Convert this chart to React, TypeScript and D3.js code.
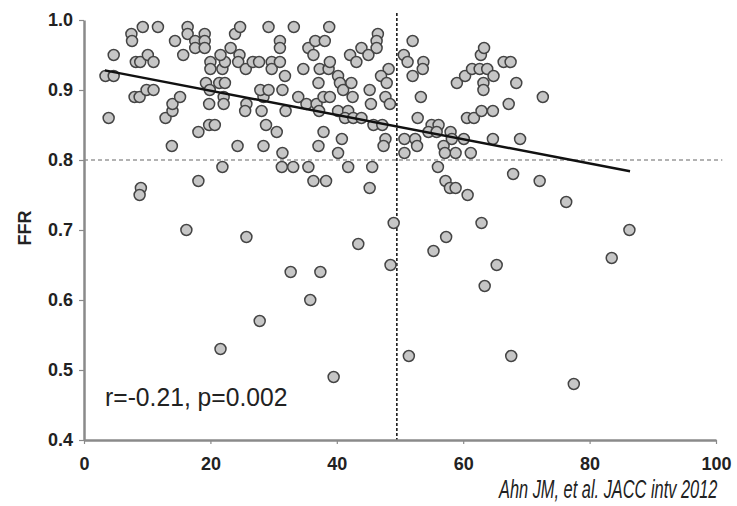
import React, { useEffect, useRef } from 'react';
import * as d3 from 'd3';

// x values (0-100) and FFR of each dot
const xValues = [
  3.4, 4.7, 4.7, 3.9, 7.5, 7.6, 9.3, 11.7, 8.2, 8.9, 10.1, 11.0, 8.0, 8.8, 9.9, 11.0, 9.0, 8.8,
  12.9, 14.0, 14.0, 15.2, 13.9, 14.4, 15.7, 16.4, 16.4, 17.6, 17.6, 19.1, 19.1, 19.1, 16.2, 18.1,
  18.1, 19.8, 20.7, 19.3, 19.8, 19.9, 20.0, 20.0, 21.4, 22.3, 22.1, 22.1, 21.9, 22.3, 21.6, 23.2,
  23.9, 24.7, 21.9, 24.6, 24.4, 25.6, 26.7, 27.7, 25.7, 25.7, 25.5, 28.1, 28.4, 27.9, 29.2, 28.8,
  30.5, 24.3, 28.4, 29.2, 29.7, 29.7, 31.0, 31.0, 31.0, 31.8, 31.4, 31.9, 31.4, 31.3, 33.1, 33.2,
  33.9, 34.7, 35.2, 35.5, 35.5, 36.3, 36.8, 37.2, 37.1, 36.3, 38.3, 37.1, 37.9, 36.6, 38.1, 38.8,
  37.3, 38.7, 38.9, 37.9, 38.9, 40.2, 40.5, 41.0, 40.2, 41.8, 41.3, 40.8, 40.2, 41.8, 42.3, 42.5,
  42.1, 43.1, 43.9, 42.6, 43.9, 43.4,
  46.5, 46.3, 46.3, 45.0, 48.2, 47.0, 47.9, 45.2, 45.4, 47.7, 48.4, 45.8, 47.2, 47.7, 47.4, 45.6,
  45.2, 49.0, 52.0, 50.6, 51.2, 52.0, 53.7, 53.6, 53.3, 52.8, 50.7, 52.4, 52.7, 50.7, 55.0, 56.1,
  54.5, 55.8, 58.0, 58.2, 56.9, 58.8, 57.1, 60.1, 61.2, 56.0, 57.2, 57.9, 58.8, 60.7, 55.3, 57.3,
  59.0, 60.3, 61.4, 62.6, 63.8, 64.8, 62.8, 63.3, 63.2, 63.2, 66.4, 67.5, 68.4, 60.6, 61.7, 62.9,
  64.7, 67.2, 64.7, 69.0, 72.6, 67.9, 72.1, 76.3, 62.9, 86.3, 83.5, 48.5, 65.3, 63.4, 51.4, 67.6,
  77.5, 32.7, 37.4, 35.8, 27.8, 21.6, 39.5
];
const ffrValues = [
  0.92, 0.92, 0.95, 0.86, 0.98, 0.97, 0.99, 0.99, 0.94, 0.94, 0.95, 0.94, 0.89, 0.89, 0.90, 0.90, 0.76, 0.75,
  0.86, 0.87, 0.88, 0.89, 0.82, 0.97, 0.95, 0.99, 0.98, 0.97, 0.96, 0.98, 0.97, 0.96, 0.70, 0.77,
  0.84, 0.85, 0.85, 0.91, 0.88, 0.90, 0.94, 0.93, 0.91, 0.91, 0.89, 0.88, 0.93, 0.94, 0.95, 0.96,
  0.98, 0.99, 0.79, 0.95, 0.94, 0.93, 0.94, 0.94, 0.69, 0.88, 0.87, 0.87, 0.89, 0.90, 0.90, 0.85,
  0.84, 0.82, 0.82, 0.99, 0.94, 0.93, 0.94, 0.97, 0.96, 0.92, 0.90, 0.87, 0.81, 0.79, 0.79, 0.99,
  0.89, 0.93, 0.88, 0.79, 0.96, 0.95, 0.88, 0.87, 0.91, 0.77, 0.77, 0.82, 0.84, 0.97, 0.97, 0.99,
  0.93, 0.93, 0.94, 0.89, 0.89, 0.92, 0.91, 0.90, 0.87, 0.87, 0.86, 0.83, 0.81, 0.79, 0.91, 0.89,
  0.95, 0.94, 0.96, 0.86, 0.86, 0.68,
  0.98, 0.97, 0.96, 0.95, 0.93, 0.92, 0.91, 0.90, 0.88, 0.89, 0.88, 0.85, 0.85, 0.83, 0.82, 0.79,
  0.76, 0.71, 0.97, 0.95, 0.94, 0.92, 0.94, 0.93, 0.89, 0.86, 0.83, 0.83, 0.82, 0.81, 0.85, 0.85,
  0.84, 0.84, 0.84, 0.83, 0.82, 0.81, 0.81, 0.83, 0.81, 0.79, 0.77, 0.76, 0.76, 0.75, 0.67, 0.69,
  0.91, 0.92, 0.93, 0.93, 0.93, 0.92, 0.95, 0.96, 0.91, 0.90, 0.94, 0.94, 0.91, 0.86, 0.86, 0.87,
  0.87, 0.88, 0.83, 0.83, 0.89, 0.78, 0.77, 0.74, 0.71, 0.70, 0.66, 0.65, 0.65, 0.62, 0.52, 0.52,
  0.48, 0.64, 0.64, 0.60, 0.57, 0.53, 0.49
];

const xTicks = [0, 20, 40, 60, 80, 100];
const yTicks = [0.4, 0.5, 0.6, 0.7, 0.8, 0.9, 1.0];

// regression line end points and cut-off lines
const fitX = [3.3, 86.4];
const fitY = [0.928, 0.784];
const cutX = 49.5;
const cutFFR = 0.8;

const statText = 'r=-0.21, p=0.002';
const citation = 'Ahn JM, et al. JACC intv 2012';

const App = () => {
  const svgRef = useRef<SVGSVGElement>(null);

  useEffect(() => {
    const width = 737;
    const height = 506;
    const marginTop = 20;
    const marginRight = 21;
    const marginBottom = 66;
    const marginLeft = 84;
    const axisGrey = '#8a8a8a';
    const font = 'Arial, "Liberation Sans", sans-serif';

    const svg = d3.select(svgRef.current);
    svg.selectAll('*').remove();
    svg.attr('width', width).attr('height', height).attr('viewBox', [0, 0, width, height]);

    const x = d3.scaleLinear([0, 100], [marginLeft, width - marginRight]);
    const y = d3.scaleLinear([0.4, 1.0], [height - marginBottom, marginTop]);

    // cut-off lines
    svg.append('line')
      .attr('x1', x(0)).attr('x2', x(101))
      .attr('y1', y(cutFFR)).attr('y2', y(cutFFR))
      .attr('stroke', '#666').attr('stroke-width', 1.2)
      .attr('stroke-dasharray', '4,3');
    svg.append('line')
      .attr('x1', x(cutX)).attr('x2', x(cutX))
      .attr('y1', y(1.01)).attr('y2', y(0.4))
      .attr('stroke', '#1a1a1a').attr('stroke-width', 1.6)
      .attr('stroke-dasharray', '3,2');

    // dots
    svg.append('g')
      .selectAll('circle')
      .data(d3.range(xValues.length))
      .join('circle')
      .attr('cx', i => x(xValues[i]))
      .attr('cy', i => y(ffrValues[i]))
      .attr('r', 5.5)
      .attr('fill', '#c6c6c6')
      .attr('stroke', '#444')
      .attr('stroke-width', 1.5);

    // regression line
    const line = d3.line<number>()
      .x(i => x(fitX[i]))
      .y(i => y(fitY[i]));
    svg.append('path')
      .attr('fill', 'none')
      .attr('stroke', '#111')
      .attr('stroke-width', 2.4)
      .attr('d', line([0, 1]));

    // x-axis
    svg.append('g')
      .attr('transform', `translate(0,${height - marginBottom})`)
      .call(d3.axisBottom(x).tickValues(xTicks).tickSize(4).tickSizeOuter(0).tickPadding(13))
      .call(g => g.select('.domain').attr('stroke', axisGrey).attr('stroke-width', 2.5))
      .call(g => g.selectAll('.tick line').attr('stroke', axisGrey).attr('stroke-width', 1.2))
      .call(g => g.selectAll('.tick text')
        .attr('font-family', font).attr('font-size', 18).attr('font-weight', 'bold').attr('fill', '#222'));

    // y-axis
    svg.append('g')
      .attr('transform', `translate(${marginLeft},0)`)
      .call(d3.axisLeft(y).tickValues(yTicks).tickFormat(d3.format('.1f')).tickSize(5).tickSizeOuter(0).tickPadding(6))
      .call(g => g.select('.domain').attr('stroke', axisGrey).attr('stroke-width', 2.5))
      .call(g => g.selectAll('.tick line').attr('stroke', axisGrey).attr('stroke-width', 1.2))
      .call(g => g.selectAll('.tick text')
        .attr('font-family', font).attr('font-size', 18).attr('font-weight', 'bold').attr('fill', '#222'));

    svg.append('text')
      .attr('transform', `translate(31,228) rotate(-90)`)
      .attr('text-anchor', 'middle')
      .attr('font-family', font).attr('font-size', 18).attr('font-weight', 'bold').attr('fill', '#222')
      .text('FFR');

    // narrow-looking text: squeeze horizontally with a scale transform
    svg.append('text')
      .attr('transform', 'translate(105,406) scale(0.95,1)')
      .attr('font-family', font).attr('font-size', 26).attr('fill', '#222')
      .text(statText);

    svg.append('text')
      .attr('transform', 'translate(499,498) scale(0.63,1)')
      .attr('font-family', font).attr('font-size', 26).attr('font-style', 'italic').attr('fill', '#222')
      .text(citation);
  }, []);

  return (
    <svg ref={svgRef} style={{ position: 'absolute', left: 0, top: 0, background: '#fff' }} />
  );
};

export default App;
